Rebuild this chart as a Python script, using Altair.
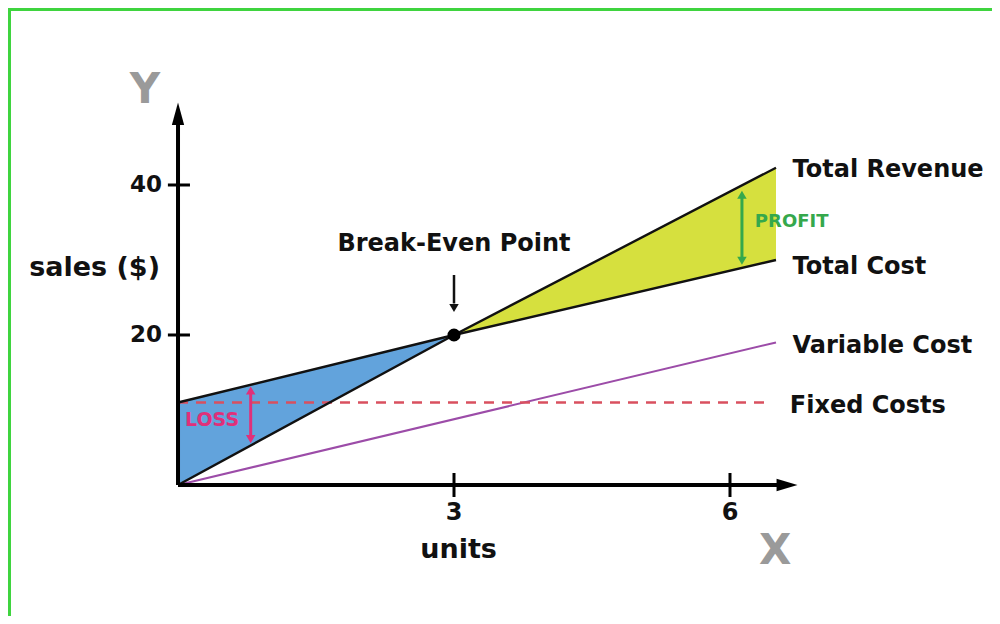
import altair as alt
import pandas as pd

# ---- data (units, $) ----
units_pts = [0, 3, 6.5]
total_revenue = [0, 20, 42.3]
total_cost = [11, 20, 30]
variable_units = [0, 6.5]
variable_cost = [0, 19]
fixed_units = [0, 6.4]
fixed_cost = [11, 11]
break_even = (3, 20)
y_ticks = [20, 40]
x_ticks = [3, 6]

W, H = 984, 608
FONT = "DejaVu Sans"

xs = alt.Scale(domain=[-1.848, 8.848], nice=False, zero=False)
ys = alt.Scale(domain=[-17.47, 63.6], nice=False, zero=False)


def X(f="x"):
    return alt.X(f"{f}:Q", scale=xs, axis=None)


def Y(f="y"):
    return alt.Y(f"{f}:Q", scale=ys, axis=None)


tr = pd.DataFrame({"x": units_pts, "y": total_revenue})
tc = pd.DataFrame({"x": units_pts, "y": total_cost})
vc = pd.DataFrame({"x": variable_units, "y": variable_cost})
fc = pd.DataFrame({"x": fixed_units, "y": fixed_cost})

loss = pd.DataFrame({"x": units_pts[:2], "top": total_cost[:2], "bot": total_revenue[:2]})
profit = pd.DataFrame({"x": units_pts[1:], "top": total_revenue[1:], "bot": total_cost[1:]})

area_loss = alt.Chart(loss).mark_area(color="#62a3dc", opacity=1).encode(
    x=X(), y=Y("top"), y2="bot:Q")
area_profit = alt.Chart(profit).mark_area(color="#d6e03e", opacity=1).encode(
    x=X(), y=Y("top"), y2="bot:Q")

line_tr = alt.Chart(tr).mark_line(color="#111", strokeWidth=2.4).encode(x=X(), y=Y())
line_tc = alt.Chart(tc).mark_line(color="#111", strokeWidth=2.4).encode(x=X(), y=Y())
line_vc = alt.Chart(vc).mark_line(color="#9c4ca8", strokeWidth=2).encode(x=X(), y=Y())
line_fc = alt.Chart(fc).mark_line(color="#d9505f", strokeWidth=2.5, strokeDash=[10, 8]).encode(x=X(), y=Y())

x_end = 6.62
y_end = 49.5
axis_y = alt.Chart(pd.DataFrame({"x": [0], "y": [0], "y2": [y_end]})).mark_rule(
    color="#000", strokeWidth=4).encode(x=X(), y=Y(), y2="y2:Q")
axis_x = alt.Chart(pd.DataFrame({"x": [0], "x2": [x_end], "y": [0]})).mark_rule(
    color="#000", strokeWidth=4).encode(x=X(), x2="x2:Q", y=Y())
arrow_y = alt.Chart(pd.DataFrame({"x": [0], "y": [y_end]})).mark_point(
    shape="M0,-1L0.55,1L-0.55,1Z", filled=True, color="#000", size=500, opacity=1).encode(x=X(), y=Y())
arrow_x = alt.Chart(pd.DataFrame({"x": [x_end], "y": [0]})).mark_point(
    shape="M1,0L-1,0.6L-1,-0.6Z", filled=True, color="#000", size=440, opacity=1).encode(x=X(), y=Y())

yt = pd.DataFrame({"x": [-0.11] * len(y_ticks), "x2": [0.13] * len(y_ticks),
                   "y": y_ticks, "t": [str(v) for v in y_ticks]})
xt = pd.DataFrame({"x": x_ticks, "y": [0] * len(x_ticks), "t": [str(v) for v in x_ticks]})
ticks_y = alt.Chart(yt).mark_rule(color="#000", strokeWidth=3).encode(x=X(), x2="x2:Q", y=Y())
ticks_x = alt.Chart(xt).mark_tick(orient="vertical", color="#000", size=24, thickness=3,
                                  opacity=1).encode(x=X(), y=Y())
labels_y = alt.Chart(yt).mark_text(align="right", baseline="middle", dx=-6, font=FONT,
                                   fontWeight="bold", fontSize=23, color="#111").encode(x=X(), y=Y(), text="t:N")
labels_x = alt.Chart(xt).mark_text(align="center", baseline="middle", dy=28, font=FONT,
                                   fontWeight="bold", fontSize=24, color="#111").encode(x=X(), y=Y(), text="t:N")

dot = alt.Chart(pd.DataFrame({"x": [break_even[0]], "y": [break_even[1]]})).mark_circle(
    color="#000", size=170, opacity=1).encode(x=X(), y=Y())

# break-even pointer
bx = break_even[0]
be_rule = alt.Chart(pd.DataFrame({"x": [bx], "y": [28], "y2": [24.2]})).mark_rule(
    color="#111", strokeWidth=2.5).encode(x=X(), y=Y(), y2="y2:Q")
be_head = alt.Chart(pd.DataFrame({"x": [bx], "y": [23.6]})).mark_point(
    shape="triangle-down", filled=True, color="#111", size=90, opacity=1).encode(x=X(), y=Y())


# double arrows
def dbl(x, y1, y2, color):
    d = pd.DataFrame({"x": [x], "y": [y1], "y2": [y2]})
    r = alt.Chart(d).mark_rule(color=color, strokeWidth=3).encode(x=X(), y=Y(), y2="y2:Q")
    up = alt.Chart(pd.DataFrame({"x": [x], "y": [y1]})).mark_point(
        shape="triangle-up", filled=True, color=color, size=90, opacity=1).encode(x=X(), y=Y())
    dn = alt.Chart(pd.DataFrame({"x": [x], "y": [y2]})).mark_point(
        shape="triangle-down", filled=True, color=color, size=90, opacity=1).encode(x=X(), y=Y())
    return r + up + dn


profit_arrow = dbl(6.13, 38.7, 29.9, "#35a84c")
loss_arrow = dbl(0.79, 12.6, 6.1, "#e0307a")

# text annotations
ann = pd.DataFrame({
    "x": [6.68, 6.68, 6.68, 6.65, 3.0, -0.196, 3.05],
    "y": [42.0, 29.1, 18.5, 10.5, 32.1, 28.9, -8.67],
    "t": ["Total Revenue", "Total Cost", "Variable Cost", "Fixed Costs",
          "Break-Even Point", "sales ($)", "units"],
    "a": ["left", "left", "left", "left", "center", "right", "center"],
    "s": [24, 24, 24, 24, 24, 27, 27],
})


def txt(row, color="#111", weight="bold"):
    d = pd.DataFrame({"x": [row["x"]], "y": [row["y"]], "t": [row["t"]]})
    return alt.Chart(d).mark_text(align=row["a"], baseline="middle", font=FONT, fontWeight=weight,
                                  fontSize=row["s"], color=color).encode(x=X(), y=Y(), text="t:N")


texts = [txt(r) for _, r in ann.iterrows()]
texts.append(txt({"x": -0.36, "y": 52.6, "t": "Y", "a": "center", "s": 42}, color="#9a9a9a"))
texts.append(txt({"x": 6.49, "y": -8.8, "t": "X", "a": "center", "s": 42}, color="#9a9a9a"))
texts.append(txt({"x": 6.27, "y": 35.1, "t": "PROFIT", "a": "left", "s": 18}, color="#35a84c"))
texts.append(txt({"x": 0.076, "y": 8.7, "t": "LOSS", "a": "left", "s": 19}, color="#e0307a"))

# frame (green border, left and top)
frame_l = alt.Chart(pd.DataFrame({"k": [0]})).mark_rule(color="#3fd43f", strokeWidth=3).encode(
    x=alt.value(1.5), y=alt.value(0), y2=alt.value(H))
frame_t = alt.Chart(pd.DataFrame({"k": [0]})).mark_rule(color="#3fd43f", strokeWidth=3).encode(
    x=alt.value(0), x2=alt.value(W), y=alt.value(1.5))

chart = alt.layer(
    area_loss, area_profit, line_vc, line_fc, line_tr, line_tc,
    axis_y, axis_x, arrow_y, arrow_x, ticks_y, ticks_x, labels_y, labels_x,
    dot, be_rule, be_head, profit_arrow, loss_arrow, *texts, frame_l, frame_t,
).properties(
    width=W, height=H, autosize=alt.AutoSizeParams(type="none"), padding=0,
).configure_view(stroke=None).configure(background="#ffffff")

chart.save("out.html", embed_options={"renderer": "svg", "actions": False})
